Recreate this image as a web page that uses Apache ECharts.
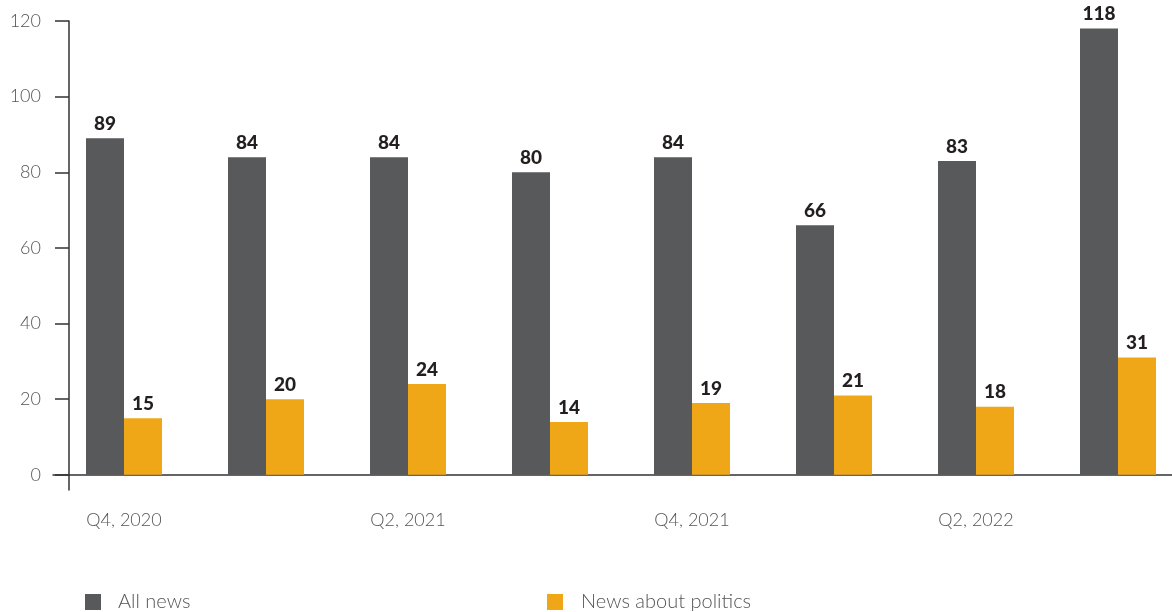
<!DOCTYPE html>
<html>
<head>
<meta charset="utf-8">
<title>News volume by quarter</title>
<script src="https://cdn.jsdelivr.net/npm/echarts@6/dist/echarts.min.js"></script>
<style>
  html, body { margin: 0; padding: 0; background: #fff; }
  #chart { width: 1172px; height: 612px; }
</style>
</head>
<body>
<div id="chart"></div>
<script>
// Quarters on the horizontal axis
const quarters = ['Q4, 2020', 'Q1, 2021', 'Q2, 2021', 'Q3, 2021', 'Q4, 2021', 'Q1, 2022', 'Q2, 2022', 'Q3, 2022'];
// Series values
const allNews = [89, 84, 84, 80, 84, 66, 83, 118];
const politicsNews = [15, 20, 24, 14, 19, 21, 18, 31];
// Vertical axis tick values
const yTicks = [0, 20, 40, 60, 80, 100, 120];

const FONT = 'Lato, "Open Sans", sans-serif';
const GREY = '#58595b';
const ORANGE = '#efa718';

const chart = echarts.init(document.getElementById('chart'));

const valueLabel = {
  show: true,
  position: 'top',
  distance: 5,
  color: '#231f20',
  fontFamily: FONT,
  fontWeight: 900,
  fontSize: 19
};

const legendText = { color: '#555', fontFamily: FONT, fontWeight: 300, fontSize: 20, padding: [0, 0, 0, 12] };

chart.setOption({
  animation: false,
  // the plot runs a little past the right edge of the canvas
  grid: { left: 53, width: 1136, top: 21, bottom: 122, containLabel: false, outerBoundsMode: 'none' },
  legend: [
    {
      data: ['All news'],
      left: 85, top: 592, padding: 0,
      icon: 'rect', itemWidth: 16, itemHeight: 16,
      textStyle: legendText
    },
    {
      data: ['News about politics'],
      left: 547, top: 592, padding: 0,
      icon: 'rect', itemWidth: 16, itemHeight: 16,
      textStyle: Object.assign({}, legendText, { padding: [0, 0, 0, 13] })
    }
  ],
  xAxis: {
    type: 'category',
    data: quarters,
    axisLine: { show: true, onZero: true, lineStyle: { color: '#333', width: 1.5 } },
    axisTick: { show: false },
    axisLabel: {
      interval: 1,
      margin: 21,
      color: '#555',
      fontFamily: FONT,
      fontWeight: 300,
      fontSize: 18
    },
    splitLine: { show: false }
  },
  yAxis: {
    type: 'value',
    min: -4,
    max: 120,
    offset: -16,
    axisLine: { show: true, lineStyle: { color: '#333', width: 1.5 } },
    axisTick: { show: true, length: 14, customValues: yTicks, lineStyle: { color: '#333', width: 1.5 } },
    axisLabel: {
      customValues: yTicks,
      margin: 28,
      color: '#555',
      fontFamily: FONT,
      fontWeight: 300,
      fontSize: 18
    },
    splitLine: { show: false }
  },
  series: [
    {
      name: 'All news',
      type: 'bar',
      data: allNews,
      barWidth: 38,
      barGap: '0%',
      itemStyle: { color: GREY },
      label: valueLabel
    },
    {
      name: 'News about politics',
      type: 'bar',
      data: politicsNews,
      barWidth: 38,
      itemStyle: { color: ORANGE },
      label: valueLabel
    }
  ]
});
</script>
</body>
</html>
